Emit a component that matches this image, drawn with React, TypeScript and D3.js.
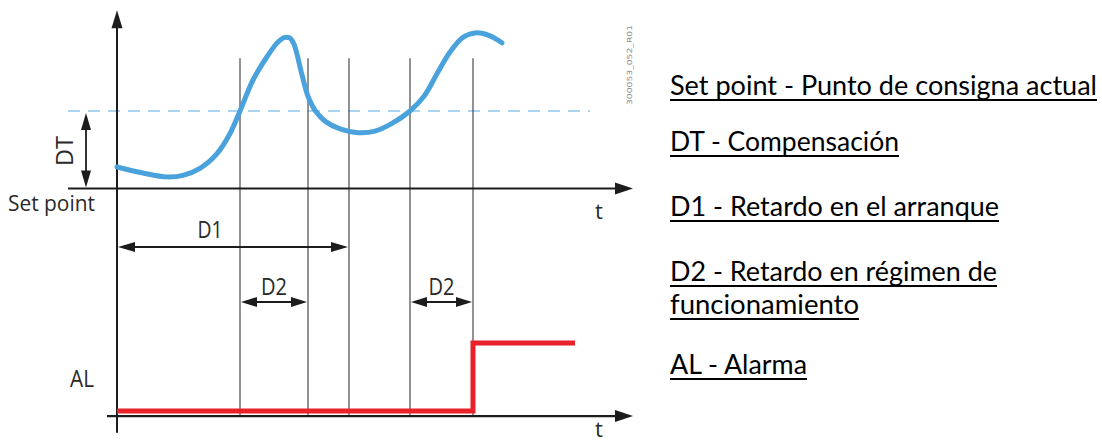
import React from "react";
import * as d3 from "d3";

// Temperature curve (time units, value relative to set point; 1 = set point + DT)
const tempTime = [0, 2.6, 5.0, 6.6, 8.3, 10.0, 11.3, 12.3, 13.6, 15.0, 16.1, 16.8, 17.3, 17.7, 18.5, 19.1, 19.9, 20.9, 22.3, 24.1, 25.8, 27.5, 29.3, 30.7, 32.0, 33.3, 34.6, 36.0, 37.3, 38.5];
const tempValue = [0.277, 0.2, 0.15, 0.17, 0.26, 0.45, 0.71, 1.0, 1.4, 1.7, 1.89, 1.95, 1.94, 1.86, 1.465, 1.19, 0.99, 0.86, 0.77, 0.72, 0.74, 0.84, 1.0, 1.19, 1.48, 1.76, 1.95, 2.01, 1.97, 1.88];

// Alarm output
const alarmTime = [0, 35.6, 35.6, 45.8];
const alarmValue = [0, 0, 1, 1];

// Event markers (vertical guide lines)
const eventTimes = [12.3, 19.1, 23.2, 29.3, 35.6];
const d1Span = [0, 23.2];
const d2Spans = [[12.3, 19.1], [29.3, 35.6]];

const legendLines = [
  "Set point - Punto de consigna actual",
  "DT - Compensación",
  "D1 - Retardo en el arranque",
  "D2 - Retardo en régimen de",
  "funcionamiento",
  "AL - Alarma",
];
const legendWidths = [427, 229, 329, 327, 189, 137];
const legendBaselines = [95, 151, 216, 281, 314, 374];

const W = 1102;
const H = 442;

function head(tx: number, ty: number, dx: number, dy: number, len: number, hw: number) {
  const bx = tx - dx * len;
  const by = ty - dy * len;
  const px = -dy, py = dx;
  return `${tx},${ty} ${bx + px * hw},${by + py * hw} ${bx - px * hw},${by - py * hw}`;
}

export default function App() {
  const x = d3.scaleLinear().domain([0, 52]).range([117, 637]);
  const yT = d3.scaleLinear().domain([0, 1]).range([188.5, 111]);
  const yA = d3.scaleLinear().domain([0, 1]).range([411, 343]);

  const tempLine = d3
    .line<number>()
    .x((_, i) => x(tempTime[i]))
    .y((v) => yT(v))
    .curve(d3.curveCatmullRom.alpha(0.5));
  const alarmLine = d3
    .line<number>()
    .x((_, i) => x(alarmTime[i]))
    .y((v) => yA(v));

  const axisColor = "#1c1c1c";
  const topAxisY = yT(0);
  const botAxisY = yA(-0.075);
  const xLeftTop = x(-4.9);
  const xRight = x(51.6);
  const yAxisTop = yT(2.3);
  const yAxisBot = yA(-0.32);
  const guideTop = yT(1.68);
  const d1Y = 247;
  const d2Y = 302;
  const dtX = x(-3.1);
  const labelFont = "'Open Sans', 'Noto Sans', sans-serif";
  const labelColor = "#2a2a2a";

  return (
    <svg width={W} height={H} style={{ position: "absolute", left: 0, top: 0, background: "#fff" }}>
      <rect x={0} y={0} width={W} height={H} fill="#fff" />
      <line x1={xLeftTop} x2={x(47.3)} y1={yT(1)} y2={yT(1)} stroke="#8ec5ec" strokeWidth={1.6} strokeDasharray="12 8" />
      {eventTimes.map((t, i) => (
        <line key={i} x1={x(t)} x2={x(t)} y1={guideTop} y2={botAxisY} stroke="#4a4a4a" strokeWidth={1.2} />
      ))}
      <line x1={xLeftTop} x2={xRight - 10} y1={topAxisY} y2={topAxisY} stroke={axisColor} strokeWidth={2.2} />
      <polygon points={head(xRight, topAxisY, 1, 0, 18, 6)} fill={axisColor} />
      <line x1={x(-1)} x2={xRight - 10} y1={botAxisY} y2={botAxisY} stroke={axisColor} strokeWidth={2.2} />
      <polygon points={head(xRight, botAxisY, 1, 0, 18, 6)} fill={axisColor} />
      <line x1={x(0)} x2={x(0)} y1={yAxisTop + 10} y2={yAxisBot} stroke={axisColor} strokeWidth={2} />
      <polygon points={head(x(0), yAxisTop, 0, -1, 18, 5.5)} fill={axisColor} />
      <line x1={dtX} x2={dtX} y1={yT(1) + 10} y2={topAxisY - 10} stroke={axisColor} strokeWidth={1.8} />
      <polygon points={head(dtX, yT(1) + 2, 0, -1, 17, 5)} fill={axisColor} />
      <polygon points={head(dtX, topAxisY - 1, 0, 1, 17, 5)} fill={axisColor} />
      <line x1={x(d1Span[0]) + 8} x2={x(d1Span[1]) - 8} y1={d1Y} y2={d1Y} stroke={axisColor} strokeWidth={1.8} />
      <polygon points={head(x(d1Span[0]) + 1, d1Y, -1, 0, 17, 5)} fill={axisColor} />
      <polygon points={head(x(d1Span[1]) - 1, d1Y, 1, 0, 17, 5)} fill={axisColor} />
      {d2Spans.map((s, i) => (
        <g key={i}>
          <line x1={x(s[0]) + 8} x2={x(s[1]) - 8} y1={d2Y} y2={d2Y} stroke={axisColor} strokeWidth={1.8} />
          <polygon points={head(x(s[0]) + 1, d2Y, -1, 0, 16, 5)} fill={axisColor} />
          <polygon points={head(x(s[1]) - 1, d2Y, 1, 0, 16, 5)} fill={axisColor} />
          <text x={(x(s[0]) + x(s[1])) / 2} y={295} textAnchor="middle" fontFamily={labelFont} fontSize={23} fill={labelColor} textLength={26} lengthAdjust="spacingAndGlyphs">
            D2
          </text>
        </g>
      ))}
      <path d={tempLine(tempValue) || ""} fill="none" stroke="#4aa2dd" strokeWidth={5} strokeLinecap="round" strokeLinejoin="round" />
      <path d={alarmLine(alarmValue) || ""} fill="none" stroke="#e8212b" strokeWidth={5} strokeLinecap="butt" strokeLinejoin="miter" />
      <text x={8} y={211} fontFamily={labelFont} fontSize={22} fill={labelColor} textLength={87} lengthAdjust="spacingAndGlyphs">
        Set point
      </text>
      <text transform={`translate(73, 151) rotate(-90)`} textAnchor="middle" fontFamily={labelFont} fontSize={23} fill={labelColor} textLength={30} lengthAdjust="spacingAndGlyphs">
        DT
      </text>
      <text x={210} y={238} textAnchor="middle" fontFamily={labelFont} fontSize={23} fill={labelColor} textLength={25} lengthAdjust="spacingAndGlyphs">
        D1
      </text>
      <text x={82} y={387} textAnchor="middle" fontFamily={labelFont} fontSize={23} fill={labelColor} textLength={24} lengthAdjust="spacingAndGlyphs">
        AL
      </text>
      <text x={599} y={219} textAnchor="middle" fontFamily={labelFont} fontSize={22} fill={labelColor}>
        t
      </text>
      <text x={599} y={437} textAnchor="middle" fontFamily={labelFont} fontSize={22} fill={labelColor}>
        t
      </text>
      <text transform={`translate(632, 65) rotate(-90)`} textAnchor="middle" fontFamily="'DejaVu Sans', sans-serif" fontSize={7} fill="#8a8a8a" textLength={80} lengthAdjust="spacingAndGlyphs">
        300053_052_R01
      </text>
      {legendLines.map((s, i) => (
        <g key={i}>
          <text x={670} y={legendBaselines[i]} fontFamily="Lato, 'Open Sans', sans-serif" fontSize={27} fill="#000" textLength={legendWidths[i]} lengthAdjust="spacingAndGlyphs">
            {s}
          </text>
          <line x1={670} x2={670 + legendWidths[i]} y1={legendBaselines[i] + 5} y2={legendBaselines[i] + 5} stroke="#000" strokeWidth={2} />
        </g>
      ))}
    </svg>
  );
}
